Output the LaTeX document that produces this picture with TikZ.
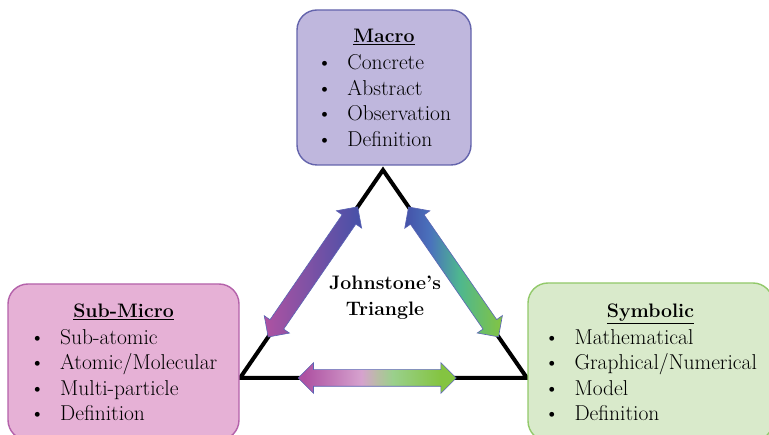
\documentclass[tikz,border=0pt]{standalone}
\usetikzlibrary{shapes,arrows,positioning}
\definecolor{macrofill}{HTML}{BFB7DD}
\definecolor{macroline}{HTML}{6464AC}
\definecolor{microfill}{HTML}{E6B1D6}
\definecolor{microline}{HTML}{B462AA}
\definecolor{symbfill}{HTML}{D9EACB}
\definecolor{symbline}{HTML}{92C96A}
\definecolor{arrline}{HTML}{5A64B4}
\definecolor{arrpurple}{HTML}{AE52A2}
\definecolor{arrblue}{HTML}{4551A8}
\definecolor{arrmidblue}{HTML}{4A72BC}
\definecolor{arrteal}{HTML}{4EB78F}
\definecolor{arrgreen}{HTML}{84C441}
\definecolor{arrpink}{HTML}{D6A2CE}
\definecolor{arrgrey}{HTML}{B9BCA6}
\definecolor{arrlgreen}{HTML}{9AD08C}
\pgfdeclarehorizontalshading{rightshade}{100bp}{color(0bp)=(arrblue); color(25bp)=(arrblue); color(38bp)=(arrmidblue); color(53bp)=(arrteal); color(75bp)=(arrgreen); color(100bp)=(arrgreen)}
\pgfdeclarehorizontalshading{bottomshade}{100bp}{color(0bp)=(arrpurple); color(27bp)=(arrpurple); color(45bp)=(arrpink); color(50bp)=(arrgrey); color(55bp)=(arrlgreen); color(70bp)=(arrgreen); color(100bp)=(arrgreen)}
\newcommand{\boxlist}[5]{%
  \begin{tabular}{@{}c@{\hspace{15pt}}l@{}}
  \multicolumn{2}{c}{\rule{0pt}{22pt}{\fontsize{19.5}{25.5}\selectfont\underline{\textbf{#1}}}}\\[1.5pt]
  \textbullet & #2\\ \textbullet & #3\\ \textbullet & #4\\ \textbullet & #5
  \end{tabular}}

\begin{document}
\begin{tikzpicture}[x=1pt, y=-1pt,
	levelbox/.style={draw, rounded corners=20pt, line width=1.4pt, inner sep=0pt,
		font=\fontsize{21.5}{25.5}\selectfont},
	twoway/.style={double arrow, double arrow head extend=7pt, inner sep=8pt,
		minimum height=158pt, draw=arrline, line width=0.6pt, sloped}]
	\clip (0,0) rectangle (769,435);
	\fill[white] (0,0) rectangle (769,435);

	\coordinate (apex) at (383,170);
	\coordinate (bl) at (240,378);
	\coordinate (br) at (527,378);
	\draw[line width=4pt] (apex) -- (bl) -- (br) -- cycle;

	\path (bl) -- (apex) node[twoway, pos=0.51, left color=arrpurple, right color=arrblue] (MicroMacro) {};
	\path (apex) -- (br) node[twoway, pos=0.49, shading=rightshade] (MacroSymb) {};
	\path (bl) -- (br) node[twoway, pos=0.478, shading=bottomshade] (MicroSymb) {};

	\node[font=\bfseries\fontsize{19.5}{26.5}\selectfont, align=center] (Johnstone) at (385,297.5) {Johnstone’s\\Triangle};

	\node[levelbox, fill=macrofill, draw=macroline, minimum width=174pt, minimum height=155pt] (Macro) at (384,87.5)
		{\boxlist{Macro}{Concrete}{Abstract}{Observation}{Definition}};
	\node[levelbox, fill=microfill, draw=microline, minimum width=231pt, minimum height=156pt] (Micro) at (123.5,362)
		{\boxlist{Sub-Micro}{Sub-atomic}{Atomic/Molecular}{Multi-particle}{Definition}};
	\node[levelbox, fill=symbfill, draw=symbline, minimum width=245pt, minimum height=158pt] (Symbolic) at (650.5,362)
		{\boxlist{Symbolic}{Mathematical}{Graphical/Numerical}{Model}{Definition}};
\end{tikzpicture}
\end{document}
